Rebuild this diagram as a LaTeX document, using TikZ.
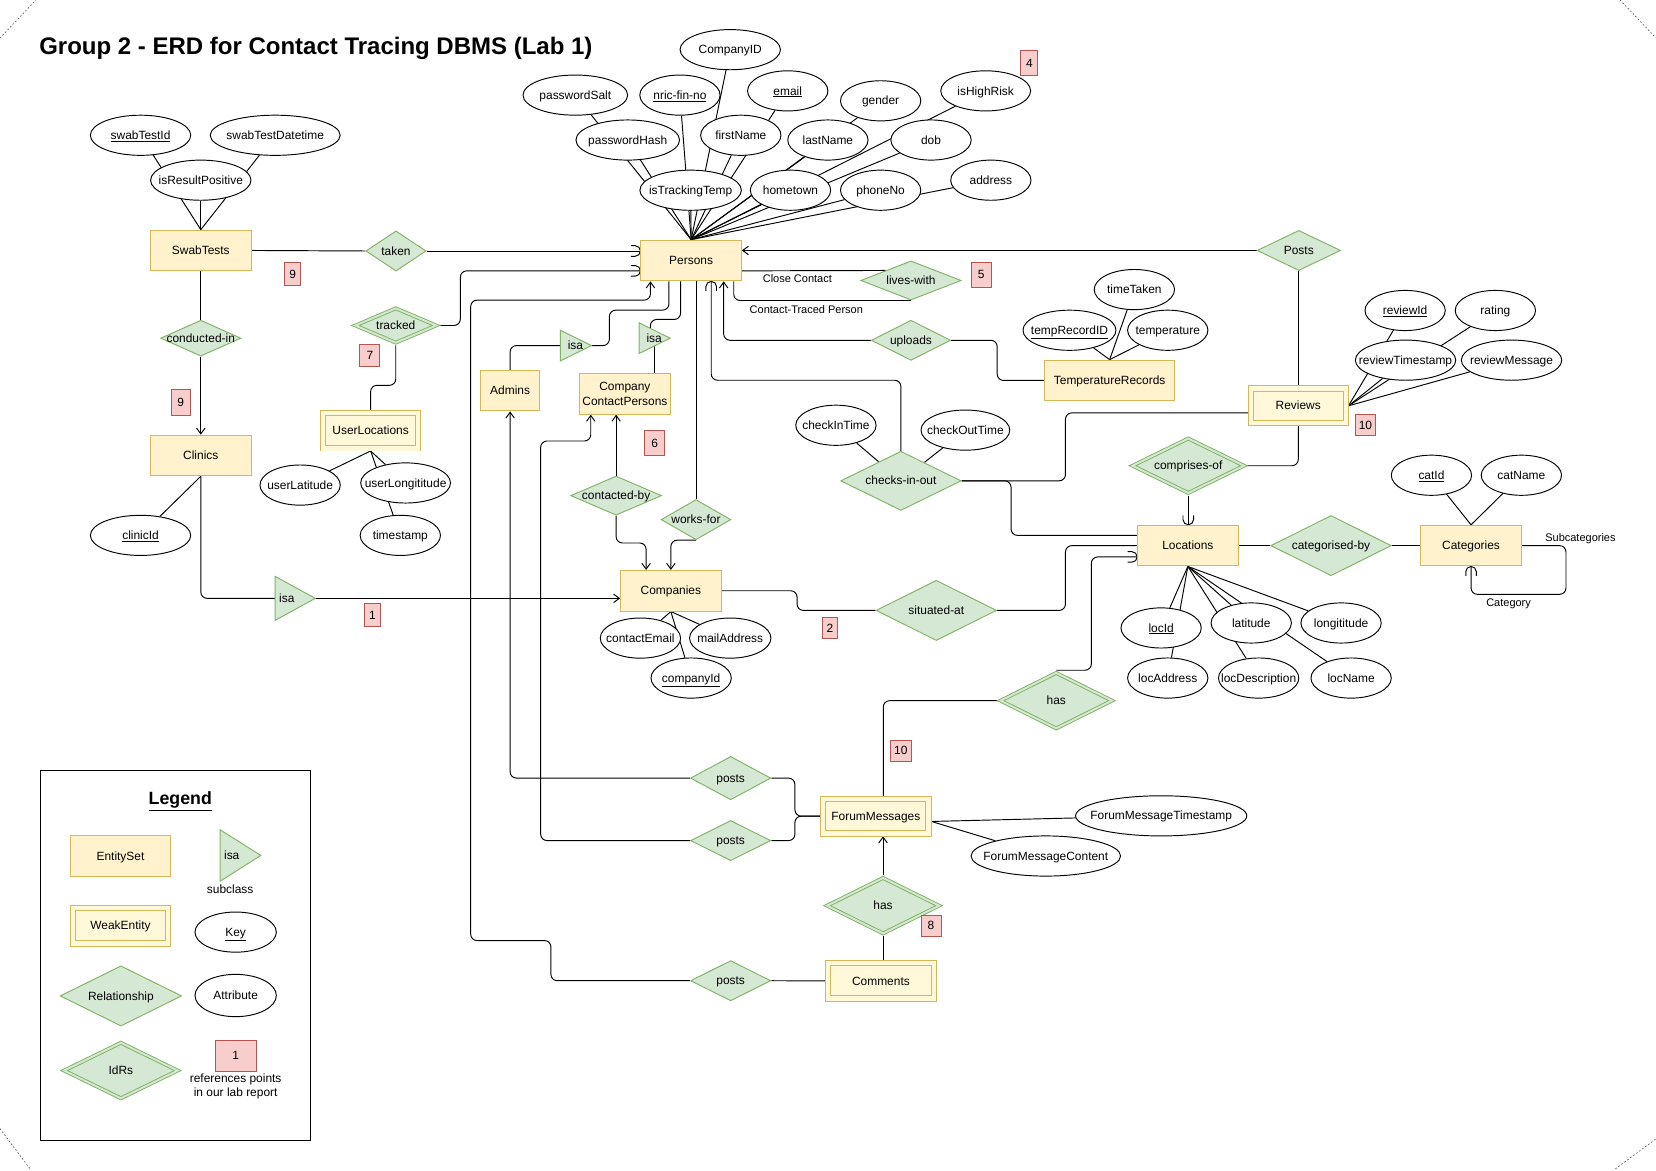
\documentclass[tikz,border=0pt]{standalone}
\usepackage{fontspec}
\setmainfont{Liberation Sans}
\usetikzlibrary{shapes.geometric,arrows.meta}
\pgfdeclarelayer{paper}
\pgfdeclarelayer{edges}
\pgfsetlayers{paper,edges,main}
\definecolor{entfill}{HTML}{FFF2CC}
\definecolor{entline}{HTML}{D6B656}
\definecolor{weakfill}{HTML}{FFF9DA}
\definecolor{relfill}{HTML}{D5E8D4}
\definecolor{relline}{HTML}{82B366}
\definecolor{badgefill}{HTML}{F8CECC}
\definecolor{badgeline}{HTML}{B85450}
\definecolor{cornergray}{HTML}{555555}
\tikzset{
  txt/.style={font=\fontsize{11.3}{13.6}\selectfont, inner sep=0pt, align=center},
  txt1/.style={txt, text height=10.2pt, text depth=2.4pt},
  lbl/.style={font=\fontsize{10.4}{12.5}\selectfont, inner sep=0pt},
  shp/.style={inner sep=0pt, line width=0.9pt},
  entity/.style={shp, rectangle, draw=entline, fill=entfill, txt},
  weak/.style={shp, rectangle, draw=entline, fill=weakfill, double=weakfill, double distance=4.2pt, outer sep=2.55pt, txt1},
  attr/.style={shp, ellipse, draw=black, fill=white},
  rel/.style={shp, diamond, draw=relline, fill=relfill},
  idrel/.style={shp, diamond, draw=relline, fill=relfill, double=relfill, double distance=1.8pt, outer sep=1.8pt},
  badge/.style={shp, rectangle, draw=badgeline, fill=badgefill, txt1},
  isastyle/.style={draw=relline, fill=relfill, line width=0.9pt},
  conn/.style={line width=0.9pt, rounded corners=6pt},
  openarr/.style={-{Straight Barb[length=5.5pt,width=8pt]}},
  cornerdash/.style={cornergray, line width=0.6pt, dash pattern=on 1.5pt off 2pt},
  hc/.pic={\draw[line width=0.9pt, rounded corners=0pt] (-9pt,5pt) -- (-5pt,5pt) arc[start angle=90, end angle=-90, radius=5pt] -- (-9pt,-5pt);},
}
\newcommand{\mkent}[6]{\node[entity,txt1,minimum width=#4pt,minimum height=#5pt] (#1) at (#2,#3) {#6};}
\newcommand{\mkweak}[6]{\node[weak,minimum width={(#4-5.1)*1pt},minimum height={(#5-5.1)*1pt}] (#1) at (#2,#3) {#6};}
\newcommand{\mkattr}[6]{\node[attr,minimum width=#4pt,minimum height=#5pt] (#1) at (#2,#3) {};\node[txt1] (#1-t) at (#1.center) {#6};}
\newcommand{\mkrel}[6]{\node[rel,minimum width=#4pt,minimum height=#5pt] (#1) at (#2,#3) {};\node[txt1] (#1-t) at (#1.center) {#6};}
\newcommand{\mkidrel}[6]{\node[idrel,minimum width={(#4-6)*1pt},minimum height={(#5-3)*1pt}] (#1) at (#2,#3) {};\node[txt1] (#1-t) at (#1.center) {#6};}
\newcommand{\mkbadge}[6]{\node[badge,minimum width=#4pt,minimum height=#5pt] (#1) at (#2,#3) {#6};}
\newcommand{\mkisa}[6]{%
  \coordinate (#1-l) at (#2,#3);
  \coordinate (#1-a) at ({#2+#4},#3);
  \coordinate (#1-c) at ({#2+#4/2},#3);
  \filldraw[isastyle] ({#2},{#3-#5/2}) -- ({#2},{#3+#5/2}) -- (#1-a) -- cycle;
  \node[txt1] (#1-t) at (#6,#3) {isa};}
\begin{document}
\begin{tikzpicture}[x=1pt,y=-1pt]
\begin{pgfonlayer}{paper}
\fill[white] (0,0) rectangle (1567,1108);
\end{pgfonlayer}
\useasboundingbox (0,0) rectangle (1567,1108);

% page corner marks
\draw[cornerdash] (0,36) -- (34,0);
\draw[cornerdash] (1533,0) -- (1567,36);
\draw[cornerdash] (0,1068) -- (28.4,1106);
\draw[cornerdash] (1528.6,1106) -- (1566.5,1078);

% title
\node[anchor=base west, inner sep=0pt, font=\bfseries\fontsize{22.7}{26}\selectfont] (title) at (37,52) {Group 2 - ERD for Contact Tracing DBMS (Lab 1)};

% ---------------- entities ----------------
\mkent{SwabTests}{190}{237}{95}{38.5}{SwabTests}
\mkent{Persons}{654}{246.5}{95}{38.6}{Persons}
\mkent{Clinics}{190}{431}{95}{38.5}{Clinics}
\mkent{Admins}{482.7}{369.6}{56}{38.5}{Admins}
\node[entity,minimum width=86pt,minimum height=38.5pt] (CCP) at (591.3,372.7) {Company\\ContactPersons};
\mkent{Companies}{634.8}{559}{95}{38.5}{Companies}
\mkent{TempRec}{1050}{360}{123}{38.5}{TemperatureRecords}
\mkent{Locations}{1124}{516.3}{95}{38.5}{Locations}
\mkent{Categories}{1392}{516.3}{95}{38.5}{Categories}

\mkweak{UserLocations}{350.7}{407.5}{95}{38.5}{UserLocations}
\mkweak{Reviews}{1228.5}{384}{95}{38}{Reviews}
\mkweak{FM}{828.8}{772.3}{105}{38}{ForumMessages}
\mkweak{Comments}{833.6}{928.2}{105}{38.5}{Comments}

% ---------------- relationships ----------------
\mkrel{taken}{374.7}{237.5}{57}{38}{taken}
\mkrel{conductedin}{190}{320}{76}{34}{conducted-in}
\mkrel{liveswith}{862}{265.4}{95}{37}{lives-with}
\mkrel{uploads}{862}{322}{75}{38}{uploads}
\mkrel{Posts}{1229}{237}{79}{38}{Posts}
\mkrel{worksfor}{658.6}{491.7}{66}{38}{works-for}
\mkrel{contactedby}{583}{469}{86}{37}{contacted-by}
\mkrel{checksinout}{852.5}{455}{114}{56}{checks-in-out}
\mkrel{situatedat}{886}{577.6}{114}{57}{situated-at}
\mkrel{catby}{1259.5}{516.3}{114}{57}{categorised-by}
\mkrel{postsA}{691.4}{736.3}{76}{41}{posts}
\mkrel{postsB}{691.4}{795.4}{76}{38}{posts}
\mkrel{postsC}{691.4}{928}{76}{38}{posts}

\mkidrel{tracked}{374.5}{308}{84}{37}{tracked}
\mkidrel{comprisesof}{1124.4}{440.7}{113}{56}{comprises-of}
\mkidrel{hasA}{999.5}{663}{113}{57}{has}
\mkidrel{hasB}{835.6}{857}{113.5}{57}{has}

% isa triangles
\mkisa{isaA}{260.4}{566.2}{37.9}{41.6}{271.4}
\mkisa{isaB}{530.3}{327}{29.4}{29}{544.5}
\mkisa{isaC}{604.7}{320}{29.4}{29.1}{619}

% ---------------- attributes ----------------
\mkattr{aCompanyID}{691}{47}{95}{38}{CompanyID}
\mkattr{aPwSalt}{544.4}{90}{99}{38}{passwordSalt}
\mkattr{aNric}{643.4}{90}{76}{38}{\underline{nric-fin-no}}
\mkattr{aEmail}{745.4}{86}{76}{38}{\underline{email}}
\mkattr{aGender}{833.3}{95.4}{76}{38}{gender}
\mkattr{aHighRisk}{932.7}{86}{85}{38}{isHighRisk}
\mkattr{aPwHash}{594}{132.5}{98}{38}{passwordHash}
\mkattr{aFirst}{701}{128}{76}{38}{firstName}
\mkattr{aLast}{783.4}{132.5}{76}{38}{lastName}
\mkattr{aDob}{881}{132.5}{76}{38}{dob}
\mkattr{aTrack}{653.5}{180}{96}{38}{isTrackingTemp}
\mkattr{aHome}{748}{180}{76}{38}{hometown}
\mkattr{aPhone}{833.3}{180}{76}{38}{phoneNo}
\mkattr{aAddress}{937.6}{170.5}{76}{38}{address}

\mkattr{aSwabId}{133}{128}{95}{38}{\underline{swabTestId}}
\mkattr{aSwabDt}{260.4}{128}{123}{38}{swabTestDatetime}
\mkattr{aResPos}{190}{170.5}{95}{38}{isResultPositive}
\mkattr{aClinicId}{133}{506.6}{95}{38}{\underline{clinicId}}

\mkattr{aULat}{284}{459}{76}{38}{userLatitude}
\mkattr{aULong}{383.8}{457}{85}{38}{userLongititude}
\mkattr{aUTs}{378.8}{506.6}{76}{38}{timestamp}

\mkattr{aCEmail}{606}{603.8}{76}{38}{contactEmail}
\mkattr{aMail}{691}{603.8}{77}{38}{mailAddress}
\mkattr{aCompId}{654}{641.6}{76}{38}{\underline{companyId}}

\mkattr{aCheckIn}{791}{402.4}{76}{38}{checkInTime}
\mkattr{aCheckOut}{913.5}{407}{84}{38}{checkOutTime}

\mkattr{aTimeTaken}{1073.4}{274}{76}{38}{timeTaken}
\mkattr{aTempId}{1012}{312.5}{88}{38}{\underline{tempRecordID}}
\mkattr{aTemp}{1105}{312.5}{76}{38}{temperature}

\mkattr{aRevId}{1329.6}{293.8}{76}{38}{\underline{reviewId}}
\mkattr{aRating}{1415}{293.8}{76}{38}{rating}
\mkattr{aRevTs}{1330}{340.8}{95}{38}{reviewTimestamp}
\mkattr{aRevMsg}{1430.3}{340.8}{95}{38}{reviewMessage}

\mkattr{aCatId}{1354.5}{449.7}{76}{38}{\underline{catId}}
\mkattr{aCatName}{1439.6}{449.7}{76}{38}{catName}

\mkattr{aLocId}{1098.7}{594.2}{76}{38}{\underline{locId}}
\mkattr{aLat}{1184}{589.5}{76}{38}{latitude}
\mkattr{aLong}{1269}{589.5}{76}{38}{longititude}
\mkattr{aLocAddr}{1105}{641.6}{76}{38}{locAddress}
\mkattr{aLocDesc}{1191}{641.6}{76}{38}{locDescription}
\mkattr{aLocName}{1278.5}{641.6}{76}{38}{locName}

\mkattr{aFMT}{1098.8}{772}{162}{38}{ForumMessageTimestamp}
\mkattr{aFMC}{989.6}{810}{141.5}{38}{ForumMessageContent}

% ---------------- badges ----------------
\mkbadge{bFour}{974}{59.5}{16}{23}{4}
\mkbadge{bNineA}{277}{259.6}{15}{22}{9}
\mkbadge{bNineB}{171}{381}{18}{24}{9}
\mkbadge{bSeven}{350}{336.5}{19}{21}{7}
\mkbadge{bOne}{352.5}{582}{15}{22}{1}
\mkbadge{bFive}{928.4}{260}{19}{24}{5}
\mkbadge{bSix}{619.4}{419.4}{19}{24}{6}
\mkbadge{bTwo}{785.4}{594.5}{14}{20}{2}
\mkbadge{bTenA}{1292}{402.5}{19}{20}{10}
\mkbadge{bTenB}{852.4}{710.5}{20}{20}{10}
\mkbadge{bEight}{881}{876}{19}{20}{8}

% ---------------- edge labels ----------------
\node[lbl] (lClose) at (754.5,263.5) {Close Contact};
\node[lbl] (lTraced) at (763,293) {Contact-Traced Person};
\node[lbl] (lSub) at (1495.5,509.8) {Subcategories};
\node[lbl] (lCat) at (1427.5,571.3) {Category};

% ---------------- legend ----------------
\node[draw=black, line width=0.9pt, inner sep=0pt, minimum width=256.2pt, minimum height=350.3pt] (legendbox) at (166,904.25) {};
\node[anchor=base, inner sep=0pt, font=\bfseries\fontsize{16.8}{20}\selectfont] (legendtitle) at (170.6,761.6) {\underline{Legend}};
\mkent{lEntity}{114}{810}{95}{38.5}{EntitySet}
\mkisa{lIsa}{208.3}{809.5}{38.5}{48.6}{219.3}
\node[txt1] (lSubclass) at (217.8,842) {subclass};
\mkweak{lWeak}{114}{876}{95}{38.5}{WeakEntity}
\mkattr{lKey}{223}{882}{77}{38}{\underline{Key}}
\mkrel{lRel}{114.4}{942.4}{115}{57}{Relationship}
\mkattr{lAttr}{223}{942}{77}{40}{Attribute}
\mkidrel{lIdRs}{114.4}{1013}{115}{57}{IdRs}
\mkbadge{lBadge}{223}{999}{39}{29}{1}
\node[txt] (lRef) at (223,1027.8) {references points\\in our lab report};

% ---------------- connectors ----------------
\begin{pgfonlayer}{edges}
\foreach \a in {aCompanyID,aPwSalt,aNric,aEmail,aGender,aHighRisk,aPwHash,aFirst,aLast,aDob,aTrack,aHome,aPhone,aAddress}
  \draw[conn] (\a) -- (Persons.north);
\foreach \a in {aSwabId,aSwabDt,aResPos} \draw[conn] (\a) -- (SwabTests.north);
\draw[conn] (Clinics.south) -- (aClinicId);
\foreach \a in {aULat,aULong,aUTs} \draw[conn] (UserLocations.south) -- (\a);
\foreach \a in {aCEmail,aMail,aCompId} \draw[conn] (Companies.south) -- (\a);
\foreach \a in {aCheckIn,aCheckOut} \draw[conn] (\a) -- (checksinout);
\foreach \a in {aTimeTaken,aTempId,aTemp} \draw[conn] (TempRec.north) -- (\a);
\foreach \a in {aRevId,aRating,aRevTs,aRevMsg} \draw[conn] (Reviews.east) -- (\a);
\foreach \a in {aCatId,aCatName} \draw[conn] (Categories.north) -- (\a);
\foreach \a in {aLocId,aLat,aLong,aLocAddr,aLocDesc,aLocName} \draw[conn] (Locations.south) -- (\a);
\draw[conn] ([yshift=-5pt]FM.east) -- (aFMT);
\draw[conn] ([yshift=-5pt]FM.east) -- (aFMC);

% SwabTests / taken / conducted-in
\draw[conn] (SwabTests.east) -- (taken.west);
\draw[conn] (taken.east) -- (taken.east -| Persons.west);
\pic at (taken.east -| Persons.west) {hc};
\draw[conn] (SwabTests.south) -- (conductedin.north);
\draw[conn,openarr] (conductedin.south) -- (Clinics.north);
% Clinics isa Companies
\draw[conn] (Clinics.south) |- (isaA-l);
\draw[conn,openarr] (isaA-a) -- (Companies.west |- isaA-a);
% tracked
\draw[conn] (UserLocations.north) -- (350.7,364.6) -| (tracked.south);
\draw[conn] (tracked.east) -- (435.6,308) |- ([yshift=-9.8pt]Persons.west);
\pic at ([yshift=-9.8pt]Persons.west) {hc};
% Admins isa
\draw[conn] (Admins.north) |- (isaB-l);
\draw[conn] (isaB-a) -- (576.6,327) -- (576.6,293.5) -| ([xshift=-21pt]Persons.south);
% CompanyContactPersons isa
\draw[conn] (CCP.north -| isaC-c) -- (isaC-c);
\draw[conn] ([xshift=-4pt]isaC-c) -- (615.4,302.3) -| ([xshift=-10pt]Persons.south);
% works-for
\draw[conn] (worksfor.north |- Persons.south) -- (worksfor.north);
\draw[conn,openarr] (worksfor.south) -| (Companies.north);
% contacted-by
\draw[conn,openarr] (contactedby.north) -- (contactedby.north |- CCP.south);
\draw[conn,openarr] (contactedby.south) -- (583,513.8) -| ([xshift=-23.4pt]Companies.north);
% checks-in-out
\draw[conn] (checksinout.north) -- (852.5,359.8) -| ([xshift=19pt]Persons.south);
\pic[rotate=90] at ([xshift=19pt]Persons.south) {hc};
\draw[conn] (checksinout.east) -- (1008.2,455) |- ([yshift=-6.7pt]Reviews.west);
\draw[conn] (checksinout.east) -- (956.7,455) |- ([yshift=9.7pt]Locations.west);
% uploads
\draw[conn,openarr] (uploads.west) -| ([xshift=30.8pt]Persons.south);
\draw[conn] (uploads.east) -- (943.6,322) |- (TempRec.west);
% lives-with
\draw[conn] ([yshift=-9.8pt]Persons.east) -- (liveswith.north west);
\draw[conn] ([xshift=40.3pt]Persons.south) |- (liveswith.south);
% Posts / Reviews
\draw[conn,openarr] (Posts.west) -- (Posts.west -| Persons.east);
\draw[conn] (Posts.south) -- (Posts.south |- Reviews.north);
\draw[conn] (Reviews.south) |- (comprisesof.east);
\draw[conn] (comprisesof.south) -- (comprisesof.south |- Locations.north);
\pic[rotate=-90] at (comprisesof.south |- Locations.north) {hc};
% Locations / Categories
\draw[conn] (Locations.east) -- (catby.west);
\draw[conn] (catby.east) -- (Categories.west);
\draw[conn] (Categories.east) -- (1481.8,516.3) -- (1481.8,562.4) -| (Categories.south);
\pic[rotate=90] at (Categories.south) {hc};
% situated-at
\draw[conn] (Companies.east) -- (754.2,559) |- (situatedat.west);
\draw[conn] (situatedat.east) -- (1008.2,577.6) |- (Locations.west);
% has (locations - forum messages)
\draw[conn] (hasA.north) -- ++(33.2,0) |- ([yshift=-10.7pt]Locations.west);
\pic at ([yshift=-10.7pt]Locations.west) {hc};
\draw[conn] (hasA.west) -| ([xshift=7pt]FM.north);
% posts
\draw[conn] (postsA.east) -- (752.2,736.3) |- (FM.west);
\draw[conn] (postsB.east) -- (752.2,795.4) |- (FM.west);
\draw[conn,openarr] (postsA.west) -| (Admins.south);
\draw[conn,openarr] (postsB.west) -- (511.6,795.4) -- (511.6,417.3) -| ([xshift=-32.3pt]CCP.south);
\draw[conn,openarr] (postsC.west) -- (521.3,928) -- (521.3,890) -- (445.4,890) -- (445.4,284) -| ([xshift=-38.5pt]Persons.south);
\draw[conn] (postsC.east) -- (Comments.west);
% has (comments)
\draw[conn] (Comments.north -| hasB.south) -- (hasB.south);
\draw[conn,openarr] (hasB.north) -- (hasB.north |- FM.south);
\end{pgfonlayer}
\end{tikzpicture}
\end{document}
